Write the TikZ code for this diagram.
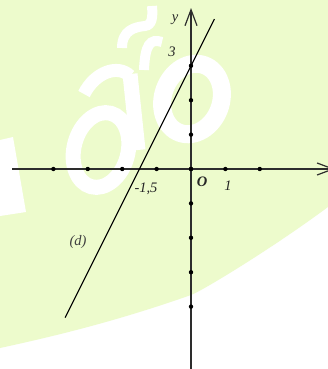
\documentclass[tikz,border=0pt]{standalone}
\usepackage{fontspec}
\setmainfont{Liberation Serif}
\usetikzlibrary{arrows.meta}
\definecolor{wmgreen}{RGB}{237,251,204}
\definecolor{axisgray}{RGB}{45,45,45}
\tikzset{
  axisline/.style={draw=axisgray, line width=1.3pt, -{Straight Barb[length=16pt,width=12pt,line width=1.2pt]}},
  dline/.style={draw=black, line width=1.1pt},
  tickdot/.style={fill=black, circle, inner sep=0pt, minimum size=4.4pt},
  lbl/.style={font=\fontsize{14.5}{14.5}\selectfont\itshape, text=black!85, inner sep=0pt},
  wm/.style={draw=white, line width=18pt}
}
\begin{document}
\begin{tikzpicture}[x=1pt,y=-1pt]
% background and watermark
\fill[white] (0,0) rectangle (328,369);
\useasboundingbox (0,0) rectangle (328,369);
\fill[wmgreen] (0,0) -- (328,0) -- (328,207) .. controls (270,250) and (200,292) .. (191,295)
  .. controls (120,320) and (60,335) .. (0,348) -- cycle;
% watermark letters
\fill[white] (0,140) -- (13,137) -- (26,212) -- (0,216) -- cycle;
\draw[wm, line width=15pt, rotate around={-15:(101,150)}] (101,150) ellipse (27 and 38);
\draw[white, line width=13pt] (84,94) .. controls (95,72) and (118,64) .. (130,76);
\draw[white, line width=15pt] (130,74) -- (138,150);
\draw[white, line width=10pt] (122,48) .. controls (122,30) and (135,27) .. (145,26) .. controls (152,25) and (153,18) .. (152,6);
\draw[white, line width=10pt] (162,42) .. controls (150,38) and (145,45) .. (144,70);
\draw[wm, rotate around={-20:(192,99)}] (192,99) ellipse (29 and 36);
% axes and line
\begin{scope}[shift={(191,169)}, x=34.4pt, y=34.4pt]
  \coordinate (O) at (0,0);
  \coordinate (xs) at (-5.2,0);
  \coordinate (xe) at (4.18,0);
  \coordinate (ys) at (0,-5.8);
  \coordinate (ye) at (0,4.68);
  \coordinate (d1) at (-3.66,-4.32);
  \coordinate (d2) at (0.68,4.36);
  \draw[axisline] (xs) -- (xe);
  \draw[axisline] (ys) -- (ye);
  \draw[dline] (d1) -- (d2);
  \foreach \i in {-4,...,2} { \node[tickdot] (tx\i) at (\i,0) {}; }
  \foreach \j in {-4,...,3} { \node[tickdot] (ty\j) at (0,\j) {}; }
\end{scope}
% labels
\node[lbl] (ylab) at (175,20) {y};
\node[lbl] (lab3) at (172,52) {3};
\node[lbl, font=\fontsize{14.5}{14.5}\selectfont\bfseries\itshape] (labO) at (202,182) {O};
\node[lbl] (lab1) at (228,186) {1};
\node[lbl] (lab15) at (146,189) {-1,5};
\node[lbl, text=black!75] (labd) at (78,242) {(d)};
\node[lbl] (xlab) at (335,188) {x};
\end{tikzpicture}
\end{document}
